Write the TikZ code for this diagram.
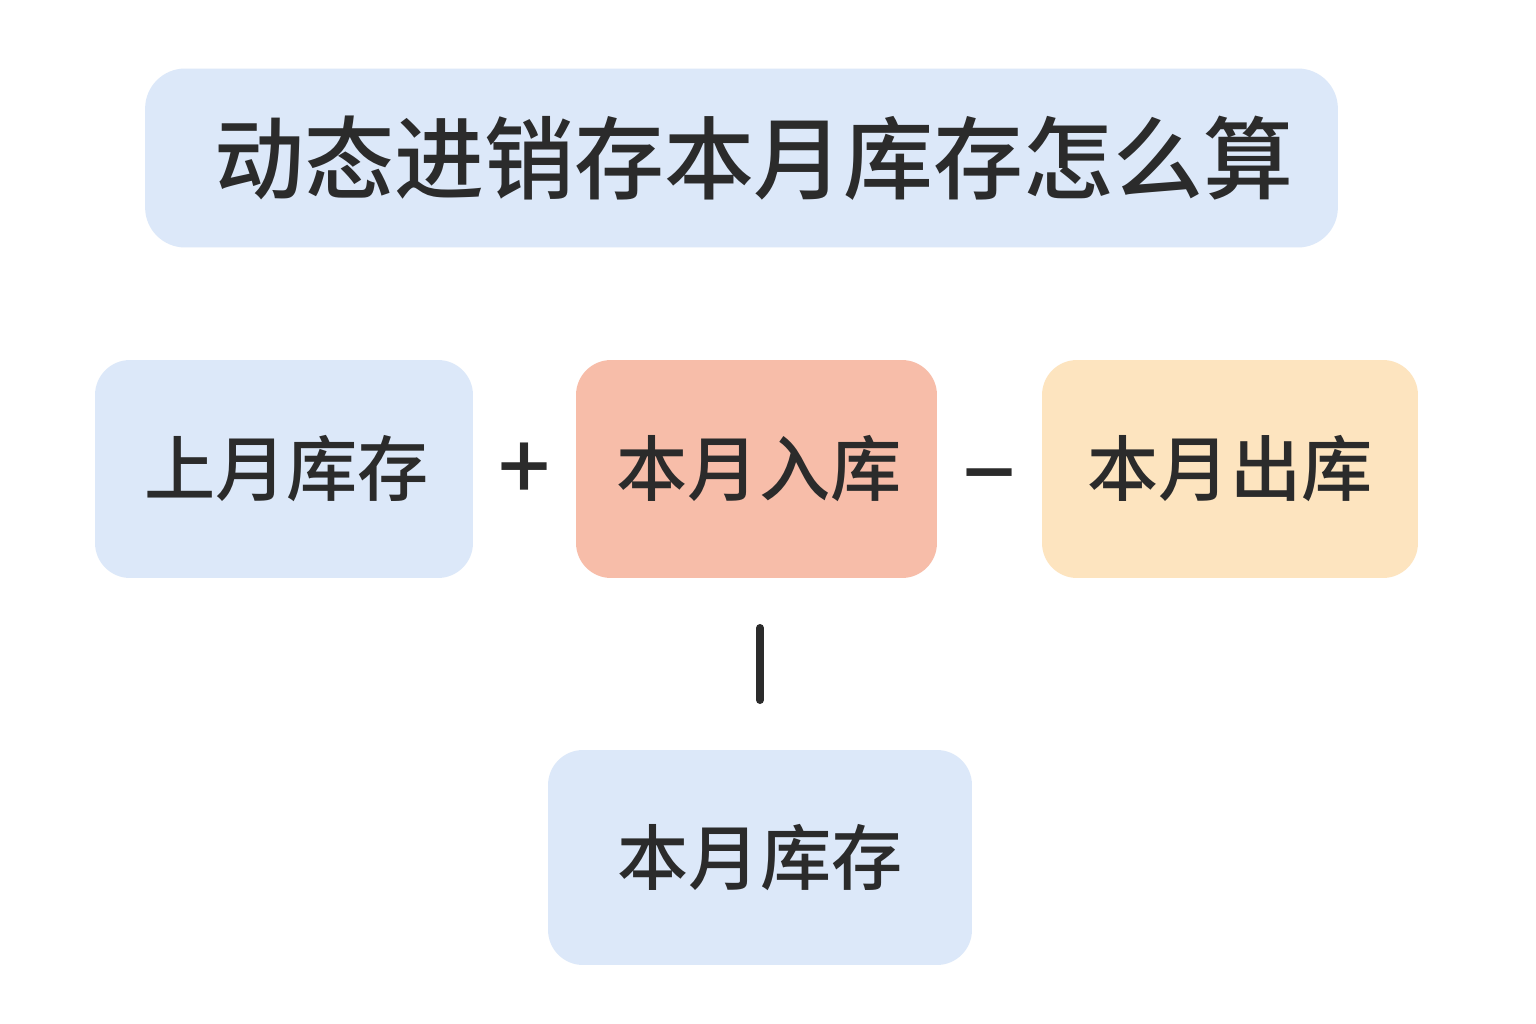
\documentclass[tikz,border=0pt]{standalone}
\usepackage{fontspec}
\newfontfamily\cjk{Noto Sans CJK SC}[BoldFont={Noto Sans CJK SC Medium}]
\definecolor{lblue}{HTML}{DCE8F9}
\definecolor{salmon}{HTML}{F7BDA9}
\definecolor{peach}{HTML}{FDE4BF}
\definecolor{ink}{HTML}{2B2B2B}
\begin{document}
\begin{tikzpicture}[x=0.02cm,y=-0.02cm,
  box/.style={rounded corners=0.7cm, inner sep=0pt, text=ink, font=\cjk\bfseries\fontsize{40.5}{44}\selectfont},
  op/.style={text=ink, inner sep=0pt, font=\cjk\bfseries\fontsize{52}{56}\selectfont}]
\useasboundingbox (0,0) rectangle (1536,1024);
\fill[white] (0,0) rectangle (1536,1024);
\node[box, fill=lblue, minimum width=23.86cm, minimum height=3.58cm, rounded corners=0.8cm,
  font=\cjk\bfseries\fontsize{51.2}{55}\selectfont] (title) at (741.5,158) {\hspace*{0.5cm}动态进销存本月库存怎么算};
\node[box, fill=lblue, minimum width=7.56cm, minimum height=4.36cm] (last) at (284,469) {\hspace*{0.1cm}上月库存};
\node[op] (plus) at (525,472) {+};
\node[box, fill=salmon, minimum width=7.22cm, minimum height=4.36cm] (in) at (756.5,469) {\hspace*{0.1cm}本月入库};
\node[op] (minus) at (990,488) {−};
\node[box, fill=peach, minimum width=7.52cm, minimum height=4.36cm] (out) at (1230,469) {本月出库};
\node[box, fill=lblue, minimum width=8.48cm, minimum height=4.3cm] (cur) at (760,857.5) {本月库存};
\coordinate (l1) at (760,628);
\coordinate (l2) at (760,700);
\draw[ink, line width=0.16cm, line cap=round] (l1) -- (l2);
\end{tikzpicture}
\end{document}
